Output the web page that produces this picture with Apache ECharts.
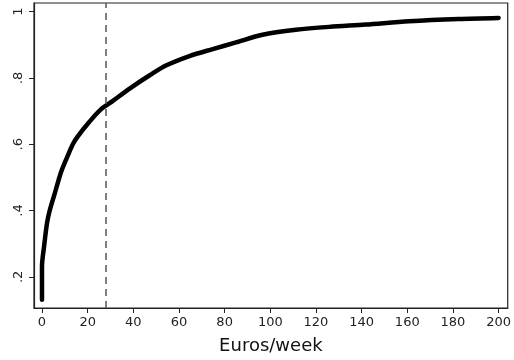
<!DOCTYPE html>
<html>
<head>
<meta charset="utf-8">
<script src="https://cdn.jsdelivr.net/npm/echarts@6/dist/echarts.min.js"></script>
<style>
  html, body { margin: 0; padding: 0; background: #fff; }
  #chart { width: 514px; height: 360px; }
</style>
</head>
<body>
<div id="chart"></div>
<script>
// Cumulative share of respondents by weekly spending
const euros = [0, 0, 0, 0, 0.9, 2.2, 3.3, 5.4, 8.3, 11.2, 13.5, 15.6, 20.7, 25.8, 30.9, 38.4, 47.2, 54.5, 64.6, 74.8, 85, 96.6, 111.2, 125.8, 141.8, 160.7, 182.5, 200];
const share = [0.131, 0.173, 0.215, 0.231, 0.291, 0.362, 0.398, 0.447, 0.515, 0.564, 0.600, 0.623, 0.667, 0.705, 0.730, 0.768, 0.808, 0.838, 0.866, 0.887, 0.907, 0.930, 0.945, 0.954, 0.961, 0.971, 0.978, 0.981];
const xTicks = [0, 20, 40, 60, 80, 100, 120, 140, 160, 180, 200];
const yTicks = [0.2, 0.4, 0.6, 0.8, 1];
const yTickText = ['.2', '.4', '.6', '.8', '1'];
const cutoff = 28;

const chart = echarts.init(document.getElementById('chart'), null, { renderer: 'canvas' });
const font = 'DejaVu Sans';
chart.setOption({
  animation: false,
  backgroundColor: '#fff',
  grid: { left: 34, right: 5, top: 3, bottom: 44, show: true, borderColor: '#222', borderWidth: 1.2 },
  xAxis: {
    type: 'value', min: -3.5, max: 204,
    name: 'Euros/week', nameLocation: 'middle', nameGap: 29,
    nameTextStyle: { fontFamily: font, fontSize: 18, color: '#111' },
    axisLine: { show: true, onZero: false, lineStyle: { color: '#222', width: 1.2 } },
    axisTick: { show: true, length: 5, lineStyle: { color: '#222' }, customValues: xTicks },
    axisLabel: { customValues: xTicks, fontFamily: font, fontSize: 13, color: '#222', margin: 8 },
    splitLine: { show: false }
  },
  yAxis: {
    type: 'value', min: 0.106, max: 1.026,
    axisLine: { show: true, onZero: false, lineStyle: { color: '#222', width: 1.2 } },
    axisTick: { show: true, length: 5, lineStyle: { color: '#222' }, customValues: yTicks },
    axisLabel: {
      customValues: yTicks, rotate: 90, fontFamily: font, fontSize: 13, color: '#222', margin: 9,
      formatter: v => yTickText[yTicks.findIndex(t => Math.abs(t - v) < 1e-6)]
    },
    splitLine: { show: false }
  },
  series: [{
    type: 'line',
    data: euros.map((x, i) => [x, share[i]]),
    smooth: 0.3,
    showSymbol: false,
    itemStyle: { color: '#000' },
    lineStyle: { color: '#000', width: 4.5, join: 'round', cap: 'round' },
    markLine: {
      silent: true, symbol: 'none', label: { show: false },
      lineStyle: { color: '#555', type: [7, 5], width: 1.5 },
      data: [{ xAxis: cutoff }]
    }
  }]
});
</script>
</body>
</html>
